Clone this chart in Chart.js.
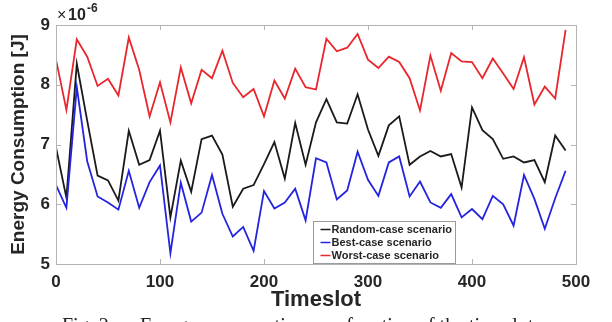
<!DOCTYPE html>
<html>
<head>
<meta charset="utf-8">
<script src="https://cdn.jsdelivr.net/npm/chart.js@4.4.1/dist/chart.umd.min.js"></script>
<style>
  html, body { margin: 0; padding: 0; background: #fff; }
  #wrap { width: 612px; height: 322px; position: relative; }
</style>
</head>
<body>
<div id="wrap"><canvas id="energyChart" width="612" height="322"></canvas></div>
<script>
// Data (energy in units of 1e-6 J)
const timeslots = [0, 10, 20, 30, 40, 50, 60, 70, 80, 90,
    100, 110, 120, 130, 140, 150, 160, 170, 180, 190,
    200, 210, 220, 230, 240, 250, 260, 270, 280, 290,
    300, 310, 320, 330, 340, 350, 360, 370, 380, 390,
    400, 410, 420, 430, 440, 450, 460, 470, 480, 490];

const randomCase = [6.95, 6.11, 8.35, 7.40, 6.48, 6.40, 6.06, 7.23, 6.66, 6.74,
    7.23, 5.78, 6.73, 6.21, 7.09, 7.15, 6.83, 5.96, 6.26, 6.32,
    6.67, 7.04, 6.43, 7.36, 6.66, 7.37, 7.76, 7.37, 7.35, 7.84,
    7.25, 6.81, 7.32, 7.47, 6.66, 6.80, 6.89, 6.80, 6.84, 6.28,
    7.62, 7.24, 7.09, 6.76, 6.80, 6.70, 6.74, 6.37, 7.15, 6.90];

const bestCase = [6.32, 5.94, 7.96, 6.72, 6.13, 6.03, 5.91, 6.56, 5.94, 6.37,
    6.65, 5.18, 6.36, 5.71, 5.86, 6.49, 5.84, 5.46, 5.62, 5.22,
    6.22, 5.93, 6.03, 6.26, 5.73, 6.77, 6.70, 6.08, 6.23, 6.88,
    6.41, 6.14, 6.70, 6.80, 6.13, 6.38, 6.03, 5.94, 6.17, 5.78,
    5.92, 5.75, 6.14, 6.00, 5.64, 6.49, 6.09, 5.59, 6.10, 6.56];

const worstCase = [8.42, 7.58, 8.76, 8.47, 7.98, 8.10, 7.82, 8.79, 8.25, 7.47,
    8.04, 7.37, 8.29, 7.69, 8.25, 8.11, 8.57, 8.03, 7.79, 7.93,
    7.47, 8.07, 7.77, 8.27, 7.96, 7.92, 8.77, 8.56, 8.62, 8.85,
    8.42, 8.28, 8.47, 8.38, 8.11, 7.57, 8.49, 7.90, 8.53, 8.39,
    8.38, 8.11, 8.44, 8.19, 7.93, 8.46, 7.67, 7.97, 7.77, 8.92];

const seriesLabels = ['Random-case scenario', 'Best-case scenario', 'Worst-case scenario'];
const seriesColors = ['#1a1a1a', '#2424e0', '#e8262c'];
const xTicks = [0, 100, 200, 300, 400, 500];
const yTicks = [5, 6, 7, 8, 9];
const exponentText = '-6';
const captionLabel = 'Fig. 2:';
const captionText = 'Energy consumption as a function of the timeslot';

const FONT = "'Liberation Sans', Arial, sans-serif";

function toPoints(values) {
    return values.map((v, i) => ({ x: timeslots[i], y: v }));
}

// Box, inward tick marks, exponent, legend and caption
const matlabAxes = {
    id: 'matlabAxes',
    afterDatasetsDraw(chart) {
        const ctx = chart.ctx;
        const area = chart.chartArea;
        const xs = chart.scales.x;
        const ys = chart.scales.y;
        ctx.save();
        ctx.strokeStyle = '#b4b4b4';
        ctx.lineWidth = 1;
        ctx.strokeRect(Math.round(area.left) + 0.5, Math.round(area.top) + 0.5,
            Math.round(area.right - area.left), Math.round(area.bottom - area.top));
        ctx.beginPath();
        xTicks.forEach(t => {
            const px = Math.round(xs.getPixelForValue(t)) + 0.5;
            ctx.moveTo(px, area.bottom); ctx.lineTo(px, area.bottom - 5);
            ctx.moveTo(px, area.top); ctx.lineTo(px, area.top + 5);
        });
        yTicks.forEach(t => {
            const py = Math.round(ys.getPixelForValue(t)) + 0.5;
            ctx.moveTo(area.left, py); ctx.lineTo(area.left + 5, py);
            ctx.moveTo(area.right, py); ctx.lineTo(area.right - 5, py);
        });
        ctx.stroke();

        // x10^-6
        ctx.fillStyle = '#262626';
        ctx.textBaseline = 'alphabetic';
        ctx.textAlign = 'left';
        ctx.font = '16px ' + FONT;
        ctx.fillText('\u00d7', 57, 20);
        ctx.font = 'bold 16px ' + FONT;
        ctx.fillText('10', 68, 20);
        ctx.font = 'bold 12px ' + FONT;
        ctx.fillText(exponentText, 87, 12);

        // legend
        const lx = 313.5, ly = 221.5, lw = 142, lh = 42;
        ctx.fillStyle = '#ffffff';
        ctx.fillRect(lx, ly, lw, lh);
        ctx.strokeStyle = '#9a9a9a';
        ctx.strokeRect(lx, ly, lw, lh);
        ctx.font = 'bold 11px ' + FONT;
        ctx.textBaseline = 'middle';
        seriesLabels.forEach((label, i) => {
            const y = ly + 8 + i * 13;
            ctx.strokeStyle = seriesColors[i];
            ctx.lineWidth = 1.5;
            ctx.beginPath();
            ctx.moveTo(lx + 7, y); ctx.lineTo(lx + 17, y);
            ctx.stroke();
            ctx.fillStyle = '#262626';
            ctx.fillText(label, lx + 18, y + 0.5);
        });

        // caption, cut at the bottom edge
        ctx.font = '20px "Liberation Serif", "Times New Roman", serif';
        ctx.fillStyle = '#222';
        ctx.textBaseline = 'alphabetic';
        ctx.fillText(captionLabel, 62, 332);
        ctx.fillText(captionText, 140, 332);
        ctx.restore();
    }
};

const datasets = [randomCase, bestCase, worstCase].map((vals, i) => ({
    label: seriesLabels[i],
    data: toPoints(vals),
    borderColor: seriesColors[i],
    backgroundColor: seriesColors[i],
    borderWidth: 1.8,
    pointRadius: 0,
    tension: 0,
    order: 3 - i
}));

new Chart(document.getElementById('energyChart'), {
    type: 'line',
    data: { datasets },
    options: {
        responsive: false,
        animation: false,
        layout: { padding: { left: 0, right: 36, top: 25, bottom: 0 } },
        plugins: {
            legend: { display: false },
            tooltip: { enabled: false }
        },
        scales: {
            x: {
                type: 'linear',
                min: 0,
                max: 500,
                afterBuildTicks: scale => { scale.ticks = xTicks.map(v => ({ value: v })); },
                afterFit: scale => { scale.height = 58; },
                grid: { display: false, drawTicks: false },
                border: { display: false },
                ticks: {
                    padding: 8,
                    color: '#262626',
                    font: { family: FONT, size: 17, weight: 'bold' },
                    maxRotation: 0
                },
                title: {
                    display: true,
                    text: 'Timeslot',
                    color: '#262626',
                    font: { family: FONT, size: 22, weight: 'bold' },
                    padding: { top: 0, bottom: 9 }
                }
            },
            y: {
                min: 5,
                max: 9,
                afterBuildTicks: scale => { scale.ticks = yTicks.map(v => ({ value: v })); },
                afterFit: scale => { scale.width = 56; },
                grid: { display: false, drawTicks: false },
                border: { display: false },
                ticks: {
                    padding: 6,
                    color: '#262626',
                    font: { family: FONT, size: 17, weight: 'bold' }
                },
                title: {
                    display: true,
                    text: 'Energy Consumption [J]',
                    color: '#262626',
                    font: { family: FONT, size: 19, weight: 'bold' },
                    padding: { top: 7, bottom: 0 }
                }
            }
        }
    },
    plugins: [matlabAxes]
});
</script>
</body>
</html>
